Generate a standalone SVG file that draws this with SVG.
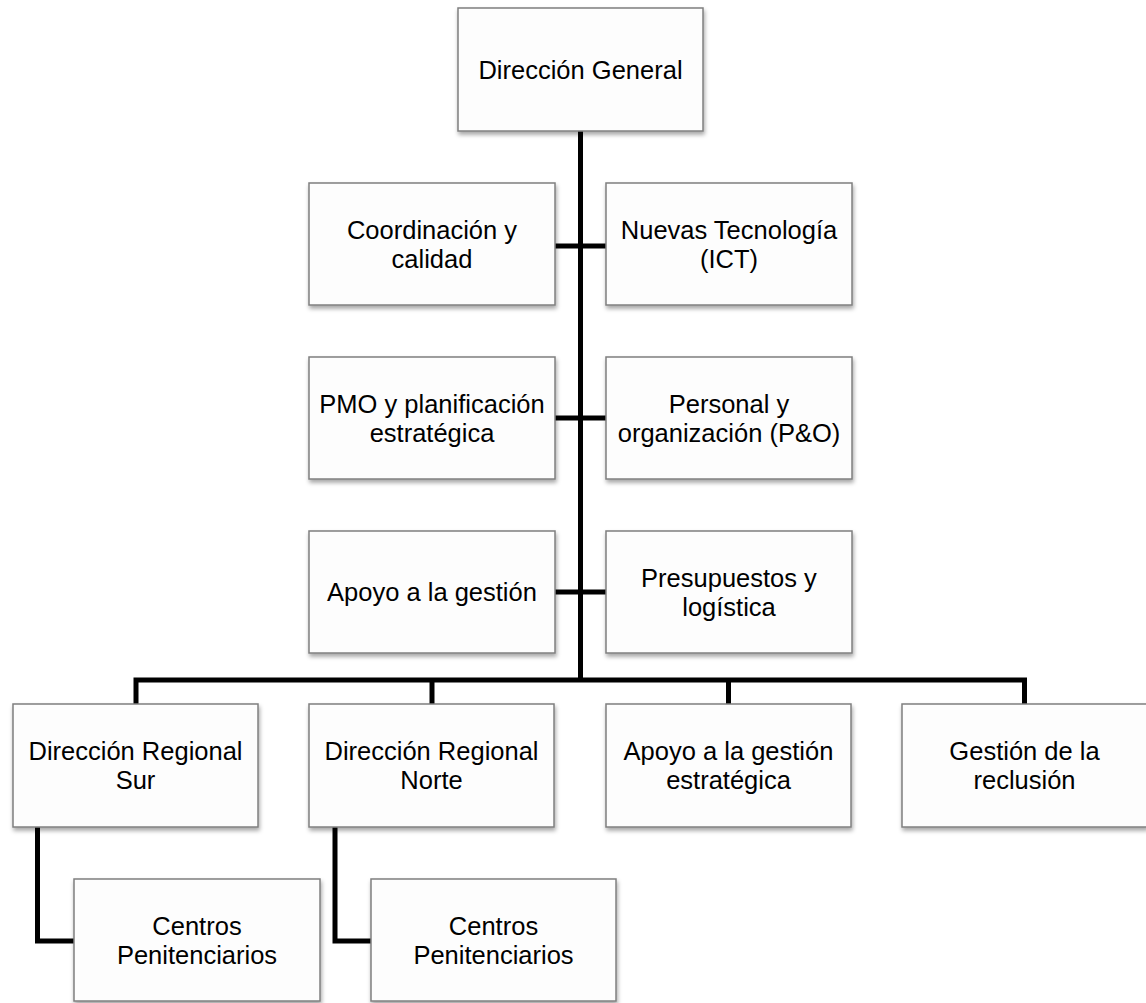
<svg xmlns="http://www.w3.org/2000/svg" width="1146" height="1003" viewBox="0 0 1146 1003">
<defs>
<filter id="sh" x="-10%" y="-10%" width="125%" height="130%">
<feDropShadow dx="1" dy="3" stdDeviation="2" flood-color="#000" flood-opacity="0.35"/>
</filter>
<style>
.box{fill:#fdfdfd;stroke:#7f7f7f;stroke-width:1.5;filter:url(#sh);}
.t{font-family:"Liberation Sans",Arial,sans-serif;font-size:25.5px;fill:#000;text-anchor:middle;}
.c{fill:none;stroke:#000;stroke-width:5;stroke-linejoin:miter;}
</style>
</defs>
<rect width="1146" height="1003" fill="#fff"/>
<g id="connectors">
<path class="c" d="M580.5,131 V680"/>
<path class="c" d="M555,246 H606"/>
<path class="c" d="M555,418 H606"/>
<path class="c" d="M555,592 H606"/>
<path class="c" d="M136,704 V680 H1024.5 V704"/>
<path class="c" d="M432,680 V704"/>
<path class="c" d="M728.5,680 V704"/>
<path class="c" d="M37.5,827 V941 H74"/>
<path class="c" d="M335,827 V941 H371"/>
</g>
<g id="n-general"><rect class="box" x="458" y="8" width="245" height="123"/><text class="t" x="580.5" y="79">Dirección General</text></g>
<g id="n-coord"><rect class="box" x="309" y="183" width="246" height="122"/><text class="t" x="432" y="238.5">Coordinación y</text><text class="t" x="432" y="267.5">calidad</text></g>
<g id="n-ict"><rect class="box" x="606" y="183" width="246" height="122"/><text class="t" x="729" y="238.5">Nuevas Tecnología</text><text class="t" x="729" y="267.5">(ICT)</text></g>
<g id="n-pmo"><rect class="box" x="309" y="357" width="246" height="122"/><text class="t" x="432" y="412.5">PMO y planificación</text><text class="t" x="432" y="441.5">estratégica</text></g>
<g id="n-personal"><rect class="box" x="606" y="357" width="246" height="122"/><text class="t" x="729" y="412.5">Personal y</text><text class="t" x="729" y="441.5">organización (P&amp;O)</text></g>
<g id="n-apoyo"><rect class="box" x="309" y="531" width="246" height="122"/><text class="t" x="432" y="601">Apoyo a la gestión</text></g>
<g id="n-presupuestos"><rect class="box" x="606" y="531" width="246" height="122"/><text class="t" x="729" y="586.5">Presupuestos y</text><text class="t" x="729" y="615.5">logística</text></g>
<g id="n-sur"><rect class="box" x="13" y="704" width="245" height="123"/><text class="t" x="135.5" y="760">Dirección Regional</text><text class="t" x="135.5" y="789">Sur</text></g>
<g id="n-norte"><rect class="box" x="309" y="704" width="245" height="123"/><text class="t" x="431.5" y="760">Dirección Regional</text><text class="t" x="431.5" y="789">Norte</text></g>
<g id="n-apoyo-est"><rect class="box" x="606" y="704" width="245" height="123"/><text class="t" x="728.5" y="760">Apoyo a la gestión</text><text class="t" x="728.5" y="789">estratégica</text></g>
<g id="n-reclusion"><rect class="box" x="902" y="704" width="245" height="123"/><text class="t" x="1024.5" y="760">Gestión de la</text><text class="t" x="1024.5" y="789">reclusión</text></g>
<g id="n-centros-sur"><rect class="box" x="74" y="879" width="246" height="122"/><text class="t" x="197" y="934.5">Centros</text><text class="t" x="197" y="963.5">Penitenciarios</text></g>
<g id="n-centros-norte"><rect class="box" x="371" y="879" width="245" height="122"/><text class="t" x="493.5" y="934.5">Centros</text><text class="t" x="493.5" y="963.5">Penitenciarios</text></g>
</svg>
